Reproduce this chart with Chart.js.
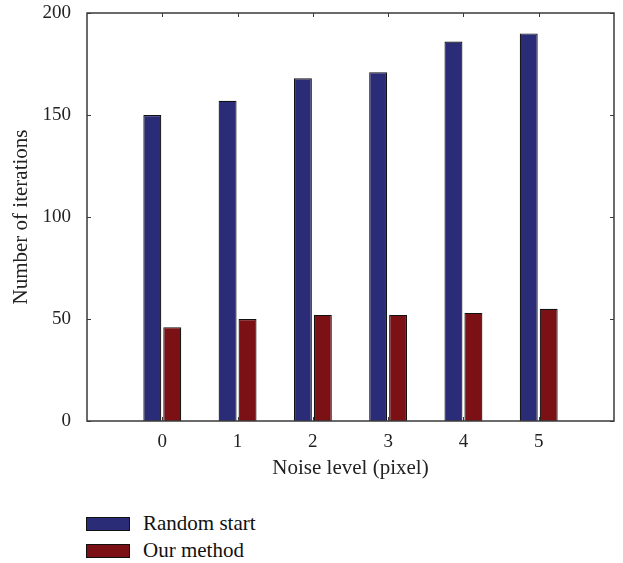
<!DOCTYPE html>
<html lang="en">
<head>
    <meta charset="UTF-8">
    <title>Number of iterations</title>
    <script src="https://cdn.jsdelivr.net/npm/chart.js"></script>
    <style>
        body {
            margin: 0;
            background: white;
            font-family: "Liberation Serif", serif;
        }
        .wrap {
            position: relative;
            width: 623px;
            height: 563px;
        }
        .plot {
            position: absolute;
            left: 0;
            top: 0;
            width: 623px;
            height: 481px;
        }
        .legend {
            position: absolute;
            left: 86px;
            top: 510px;
            font-size: 21px;
            color: #111;
        }
        .legend .item {
            display: flex;
            align-items: center;
            height: 27px;
        }
        .legend .box {
            width: 42px;
            height: 12px;
            border: 1px solid #111;
            margin-right: 13px;
        }
    </style>
</head>
<body>
    <div class="wrap">
        <div class="plot"><canvas id="myChart"></canvas></div>
        <div class="legend" id="legend"></div>
    </div>
    <script>
        const categories = ['0', '1', '2', '3', '4', '5'];
        const randomStart = [150, 157, 168, 171, 186, 190];
        const ourMethod = [46, 50, 52, 52, 53, 55];
        const yTicks = [0, 50, 100, 150, 200];

        // pad with an empty slot on each side so the axis runs from -1 to 6
        const labels = [''].concat(categories, ['']);
        const pad = arr => [null].concat(arr, [null]);

        const axisColor = '#3a3a3a';
        const tickFont = { family: '"Liberation Serif", serif', size: 19 };
        const titleFont = { family: '"Liberation Serif", serif', size: 21 };

        // frame round the plot and small inward ticks, like the original
        const framePlugin = {
            id: 'frame',
            afterDraw(chart) {
                const { ctx, chartArea: a, scales } = chart;
                ctx.save();
                ctx.strokeStyle = axisColor;
                ctx.lineWidth = 1.5;
                ctx.strokeRect(a.left, a.top, a.right - a.left, a.bottom - a.top);
                ctx.lineWidth = 1;
                ctx.beginPath();
                labels.forEach((l, i) => {
                    if (l === '') return;
                    const x = Math.round(scales.x.getPixelForValue(i)) + 0.5;
                    ctx.moveTo(x, a.bottom); ctx.lineTo(x, a.bottom - 4);
                    ctx.moveTo(x, a.top); ctx.lineTo(x, a.top + 4);
                });
                yTicks.forEach(v => {
                    const y = Math.round(scales.y.getPixelForValue(v)) + 0.5;
                    ctx.moveTo(a.left, y); ctx.lineTo(a.left + 4, y);
                    ctx.moveTo(a.right, y); ctx.lineTo(a.right - 4, y);
                });
                ctx.stroke();
                ctx.restore();
            }
        };

        const ctx = document.getElementById('myChart').getContext('2d');
        const myChart = new Chart(ctx, {
            type: 'bar',
            data: {
                labels: labels,
                datasets: [{
                    label: 'Random start',
                    data: pad(randomStart),
                    backgroundColor: '#2b2c78',
                    borderColor: '#111',
                    borderWidth: 1.2
                }, {
                    label: 'Our method',
                    data: pad(ourMethod),
                    backgroundColor: '#7b1114',
                    borderColor: '#111',
                    borderWidth: 1.2
                }]
            },
            options: {
                responsive: true,
                maintainAspectRatio: false,
                animation: false,
                categoryPercentage: 0.53,
                barPercentage: 0.9,
                layout: { padding: { top: 13, right: 9, left: 0, bottom: 0 } },
                plugins: {
                    legend: { display: false },
                    tooltip: { enabled: false }
                },
                scales: {
                    x: {
                        offset: false,
                        grid: { display: false },
                        border: { display: false },
                        ticks: { color: '#222', font: tickFont, padding: 2, maxRotation: 0, autoSkip: false },
                        title: {
                            display: true,
                            text: 'Noise level (pixel)',
                            color: '#222',
                            font: titleFont,
                            padding: 0
                        },
                        afterFit(scale) { scale.height = 60; }
                    },
                    y: {
                        min: 0,
                        max: 200,
                        grid: { display: false },
                        border: { display: false },
                        ticks: { stepSize: 50, color: '#222', font: tickFont, padding: 8 },
                        title: {
                            display: true,
                            text: 'Number of iterations',
                            color: '#222',
                            font: titleFont,
                            padding: { top: 9, bottom: 0 }
                        },
                        afterFit(scale) {
                            scale.width = 87;
                            // let the layout padding decide where the plot starts
                            scale.paddingTop = 0;
                            scale.paddingBottom = 0;
                        }
                    }
                }
            },
            plugins: [framePlugin]
        });

        // legend stacked under the plot, built from the datasets
        const legend = document.getElementById('legend');
        myChart.data.datasets.forEach(ds => {
            const item = document.createElement('div');
            item.className = 'item';
            const box = document.createElement('span');
            box.className = 'box';
            box.style.background = ds.backgroundColor;
            const txt = document.createElement('span');
            txt.textContent = ds.label;
            item.appendChild(box);
            item.appendChild(txt);
            legend.appendChild(item);
        });
    </script>
</body>
</html>
